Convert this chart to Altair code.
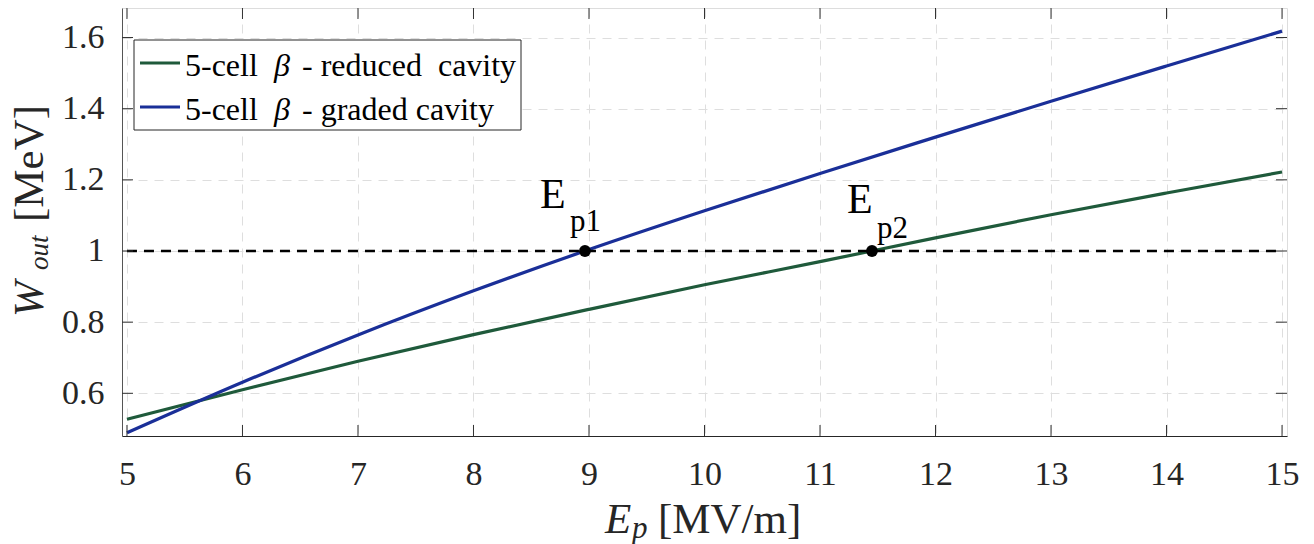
import altair as alt
import pandas as pd

# ---------------- data ----------------
ep = [5, 6, 7, 8, 9, 10, 11, 12, 13, 14, 15]
w_reduced = [0.527, 0.610, 0.690, 0.765, 0.836, 0.905, 0.970, 1.037, 1.102, 1.163, 1.222]
w_graded = [0.489, 0.631, 0.764, 0.888, 1.004, 1.113, 1.218, 1.320, 1.421, 1.520, 1.618]
series = ["reduced", "graded"]
legend_suffix = ["- reduced\u00a0\u00a0cavity", "- graded cavity"]
colors = ["#1f5a3b", "#1a2f98"]

w_target = 1.0
ep_cross = [8.965, 11.45]
cross_sub = ["p1", "p2"]

x_ticks = [5, 6, 7, 8, 9, 10, 11, 12, 13, 14, 15]
y_ticks = [0.6, 0.8, 1.0, 1.2, 1.4, 1.6]

# ---------------- layout ----------------
W, H = 1165, 428
FONT = "Liberation Serif"
TXT = "#262626"

xscale = alt.Scale(domain=[4.957, 15.043], nice=False, zero=False)
yscale = alt.Scale(domain=[0.48, 1.683], nice=False, zero=False)
xaxis = alt.Axis(values=x_ticks, title=None, ticks=False, labelPadding=21,
                 labelFontSize=34, labelFont=FONT, labelColor=TXT,
                 grid=True, gridDash=[9, 7], gridColor="#dedede", gridWidth=1,
                 domainColor="#262626", domainWidth=1, labelFlush=False)
yaxis = alt.Axis(values=y_ticks, title=None, ticks=False, labelPadding=18,
                 labelFontSize=34, labelFont=FONT, labelColor=TXT,
                 labelExpr="format(datum.value, '~g')",
                 grid=True, gridDash=[9, 7], gridColor="#dedede", gridWidth=1,
                 domainColor="#555555", domainWidth=1)


def X(f):
    return alt.X(f, type="quantitative", scale=xscale, axis=xaxis)


def Y(f):
    return alt.Y(f, type="quantitative", scale=yscale, axis=yaxis)


rows = []
for s, vals in zip(series, [w_reduced, w_graded]):
    for e, v in zip(ep, vals):
        rows.append({"x": e, "y": v, "s": s})
df = pd.DataFrame(rows)

lines = alt.Chart(df).mark_line(strokeWidth=3.2, interpolate="monotone").encode(
    x=X("x"), y=Y("y"),
    color=alt.Color("s:N", scale=alt.Scale(domain=series, range=colors), legend=None),
)

thr = alt.Chart(pd.DataFrame({"x": [ep[0]], "x2": [ep[-1]], "y": [w_target]})).mark_rule(
    color="black", strokeWidth=2.5, strokeDash=[10, 7]
).encode(x=X("x"), x2="x2", y=Y("y"))

pts_df = pd.DataFrame({"x": ep_cross, "y": [w_target] * len(ep_cross), "sub": cross_sub})
pts = alt.Chart(pts_df).mark_point(filled=True, color="black", size=140, opacity=1).encode(
    x=X("x"), y=Y("y"))

# annotation labels (offsets relative to the points)
lab_layers = []
offs = [(-45, -43, -15, -20), (-25, -38, 5, -13)]
for i, (xx, sub) in enumerate(zip(ep_cross, cross_sub)):
    d = pd.DataFrame({"x": [xx], "y": [w_target], "E": ["E"], "sub": [sub]})
    dxE, dyE, dxS, dyS = offs[i]
    lab_layers.append(alt.Chart(d).mark_text(font=FONT, fontSize=42, align="left",
                                             baseline="alphabetic", dx=dxE, dy=dyE, color="black")
                      .encode(x=X("x"), y=Y("y"), text="E:N"))
    lab_layers.append(alt.Chart(d).mark_text(font=FONT, fontSize=31, align="left",
                                             baseline="alphabetic", dx=dxS, dy=dyS, color="black")
                      .encode(x=X("x"), y=Y("y"), text="sub:N"))

# frame ticks (inward)
xt = pd.DataFrame({"v": x_ticks})
yt = pd.DataFrame({"v": y_ticks})
TL = 11
tick_layers = [
    alt.Chart(xt).mark_rule(color="#333333", strokeWidth=1).encode(
        x=X("v"), y=alt.value(H), y2=alt.value(H - TL)),
    alt.Chart(xt).mark_rule(color="#333333", strokeWidth=1).encode(
        x=X("v"), y=alt.value(0), y2=alt.value(TL)),
    alt.Chart(yt).mark_rule(color="#333333", strokeWidth=1).encode(
        y=Y("v"), x=alt.value(0), x2=alt.value(TL)),
    alt.Chart(yt).mark_rule(color="#333333", strokeWidth=1).encode(
        y=Y("v"), x=alt.value(W - TL), x2=alt.value(W)),
]

# legend
one = pd.DataFrame({"a": [0]})
leg_layers = [
    alt.Chart(one).mark_rect(fill="white", stroke="#262626", strokeWidth=1).encode(
        x=alt.value(12), x2=alt.value(399), y=alt.value(32), y2=alt.value(122))
]
row_y = [55, 99]
for i in range(len(series)):
    ly = row_y[i]
    leg_layers.append(alt.Chart(one).mark_rule(color=colors[i], strokeWidth=3.2).encode(
        x=alt.value(18), x2=alt.value(58), y=alt.value(ly)))
    for txt_, xx, style in [("5-cell", 63, "normal"), ("β", 152, "italic"),
                            (legend_suffix[i], 180, "normal")]:
        leg_layers.append(alt.Chart(pd.DataFrame({"t": [txt_]})).mark_text(
            font=FONT, fontSize=32, fontStyle=style, align="left",
            baseline="alphabetic", color="black").encode(
            x=alt.value(xx), y=alt.value(ly + 13), text="t:N"))


# axis titles
def txt(t, x, y, size, style="normal", angle=0):
    kw = dict(font=FONT, fontSize=size, fontStyle=style, align="left",
              baseline="alphabetic", color=TXT)
    if angle:
        kw["angle"] = angle
    return alt.Chart(pd.DataFrame({"t": [t]})).mark_text(**kw).encode(
        x=alt.value(x), y=alt.value(y), text="t:N")


title_layers = [
    txt("E", 483, 525, 43, "italic"),
    txt("p", 510, 530, 31, "italic"),
    txt("[MV/m]", 536, 525, 43),
    txt("W", -79, 309, 43, "italic", 270),
    txt("out", -74, 262, 27, "italic", 270),
    txt("[MeV]", -79, 214, 43, "normal", 270),
]

chart = alt.layer(
    lines, thr, pts, *lab_layers, *leg_layers, *tick_layers, *title_layers
).properties(
    width=W, height=H,
    autosize=alt.AutoSizeParams(type="none"),
    padding={"left": 114, "top": 0, "right": 19, "bottom": 110},
).configure_view(stroke="#666666", strokeWidth=1).configure(background="white")

chart.save("out.html", embed_options={"renderer": "svg", "actions": False})
